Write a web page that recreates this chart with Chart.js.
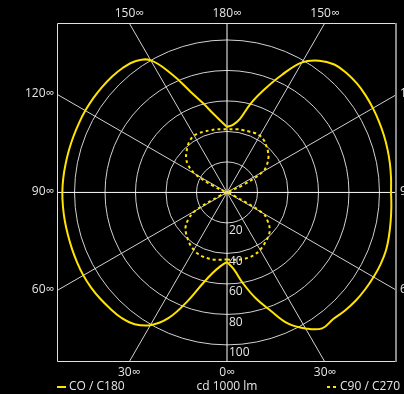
<!DOCTYPE html>
<html>
<head>
<meta charset="utf-8">
<script src="https://cdn.jsdelivr.net/npm/chart.js@4/dist/chart.umd.min.js"></script>
<style>
  html, body { margin: 0; padding: 0; background: #000; }
  #wrap { width: 404px; height: 394px; position: relative; }
</style>
</head>
<body>
<div id="wrap"><canvas id="polarChart"></canvas></div>
<script>
// Winkel (Grad, 0 = unten / Nadir, 180 = oben)
const gammas = [0, 5, 10, 15, 20, 25, 30, 35, 40, 45, 50, 55, 60, 65, 70, 75, 80, 85, 90,
  95, 100, 105, 110, 115, 120, 125, 130, 135, 140, 145, 150, 155, 160, 165, 170, 175, 180];

// C0 / C180 (cd/1000 lm) – rechte und linke Hälfte
const c0Right = [45.5, 50.5, 60.5, 71.5, 82, 95, 103, 108.8, 108.4, 109.5, 110.3, 110.7, 111, 111.2, 111, 110, 109, 108.2, 107.6,
  108, 108.5, 109, 109.5, 110, 110.5, 111, 111.2, 110.8, 109.5, 105.5, 98.5, 85, 72, 60.5, 49, 44.5, 43];
const c180Left = [45.5, 48.5, 53.5, 62, 76, 91, 100.5, 105.5, 107.5, 108, 108.5, 108.8, 108.8, 108.5, 108.2, 108, 108, 108, 108,
  107.8, 107.5, 107.3, 107.2, 107.2, 107.3, 107.3, 107.2, 107, 106.5, 105, 100, 85.5, 70.5, 60.5, 52.5, 47, 43];

// C90 / C270
const c90Right = [44, 44.3, 44.8, 45, 45, 44.5, 43.5, 42, 40.5, 39, 36.5, 32.5, 27, 5, 0, 0, 0, 0, 0,
  0, 0, 0, 0, 12, 27, 32, 35.5, 38, 40, 42, 43, 43, 42.5, 42.2, 42, 41.6, 41.4];
const c270Left = [44, 44.3, 44.8, 45, 45, 44.6, 43.5, 42, 40, 38, 35.5, 31, 24, 5, 0, 0, 0, 0, 0,
  0, 0, 0, 0, 10, 24, 31, 35, 37.5, 40, 42, 43, 43, 42.5, 42.2, 42, 41.6, 41.4];

// Beschriftungen
const ringTicks = [20, 40, 60, 80, 100];
const spokeAngles = [0, 30, 60, 90, 120, 150];
const topLabels = ["150∞", "180∞", "150∞"];
const bottomLabels = ["30∞", "0∞", "30∞"];
const sideLabels = ["120∞", "90∞", "60∞"];
const legendLeft = "CO / C180";
const legendMid = "cd 1000 lm";
const legendRight = "C90 / C270";

const yellow = "#ffe400";
const textColor = "#e6e6e6";
const fontFamily = "'Open Sans', 'Noto Sans', sans-serif";

// Polar -> kartesisch (rechts: +sin, links: -sin)
function toPoints(rightVals, leftVals) {
  const pts = [];
  gammas.forEach((g, i) => {
    const a = g * Math.PI / 180;
    pts.push({ x: rightVals[i] * Math.sin(a), y: -rightVals[i] * Math.cos(a) });
  });
  for (let i = gammas.length - 1; i >= 0; i--) {
    const a = gammas[i] * Math.PI / 180;
    pts.push({ x: -leftVals[i] * Math.sin(a), y: -leftVals[i] * Math.cos(a) });
  }
  return pts;
}

// Raster, Rahmen und Texte
const polarGrid = {
  id: "polarGrid",
  beforeDatasetsDraw(chart) {
    const { ctx, chartArea: ca, scales: { x, y } } = chart;
    const cx = x.getPixelForValue(0);
    const cy = y.getPixelForValue(0);
    const unit = x.getPixelForValue(1) - cx;

    ctx.save();
    ctx.beginPath();
    ctx.rect(ca.left, ca.top, ca.right - ca.left, ca.bottom - ca.top);
    ctx.clip();

    // Kreise
    ctx.strokeStyle = "#d2d2d2";
    ctx.lineWidth = 1;
    ringTicks.forEach(r => {
      ctx.beginPath();
      ctx.arc(cx, cy, r * unit, 0, Math.PI * 2);
      ctx.stroke();
    });

    // Speichen
    spokeAngles.forEach(g => {
      const a = g * Math.PI / 180;
      const L = 400;
      ctx.strokeStyle = (g % 90 === 0) ? "#ffffff" : "#d2d2d2";
      ctx.beginPath();
      ctx.moveTo(cx + L * Math.sin(a), cy + L * Math.cos(a));
      ctx.lineTo(cx - L * Math.sin(a), cy - L * Math.cos(a));
      ctx.stroke();
    });
    ctx.restore();

    // Rahmen
    ctx.save();
    ctx.strokeStyle = "#e0e0e0";
    ctx.lineWidth = 1;
    ctx.beginPath();
    ctx.moveTo(ca.right, ca.top + 0.5);
    ctx.lineTo(ca.left + 0.5, ca.top + 0.5);
    ctx.lineTo(ca.left + 0.5, ca.bottom - 0.5);
    ctx.lineTo(ca.right, ca.bottom - 0.5);
    ctx.stroke();
    ctx.strokeStyle = "#8a8a8a";
    ctx.lineWidth = 2;
    ctx.beginPath();
    ctx.moveTo(ca.right - 1, ca.top);
    ctx.lineTo(ca.right - 1, ca.bottom);
    ctx.stroke();
    ctx.restore();
  },
  afterDatasetsDraw(chart) {
    const { ctx, chartArea: ca, scales: { x, y } } = chart;
    const cx = x.getPixelForValue(0);
    const cy = y.getPixelForValue(0);
    const unit = x.getPixelForValue(1) - cx;
    const t30 = Math.tan(Math.PI / 6);

    ctx.save();
    ctx.fillStyle = textColor;
    ctx.font = "12px " + fontFamily;

    // Ring-Beschriftung
    ctx.textAlign = "left";
    ctx.textBaseline = "top";
    ringTicks.forEach(r => {
      ctx.fillText(String(r), cx + 2, cy + r * unit + 2);
    });

    // Winkel oben / unten
    const halfH = cy - ca.top;
    const xs = [cx - halfH * t30, cx, cx + halfH * t30];
    ctx.textAlign = "center";
    ctx.textBaseline = "middle";
    topLabels.forEach((t, i) => ctx.fillText(t, xs[i], ca.top - 9));
    const halfB = ca.bottom - cy;
    const xb = [cx - halfB * t30, cx, cx + halfB * t30];
    bottomLabels.forEach((t, i) => ctx.fillText(t, xb[i], ca.bottom + 11));

    // Winkel links / rechts
    const halfW = cx - ca.left;
    const ys = [cy - halfW * t30, cy, cy + halfW * t30];
    ctx.textAlign = "right";
    sideLabels.forEach((t, i) => ctx.fillText(t, ca.left - 3, ys[i] - 1));
    ctx.textAlign = "left";
    sideLabels.forEach((t, i) => ctx.fillText(t, ca.right + 3, ys[i] - 1));

    // Legende
    const ly = 387;
    ctx.strokeStyle = yellow;
    ctx.lineWidth = 2;
    ctx.beginPath();
    ctx.moveTo(57, ly);
    ctx.lineTo(66, ly);
    ctx.stroke();
    ctx.setLineDash([3, 3]);
    ctx.beginPath();
    ctx.moveTo(327, ly);
    ctx.lineTo(338, ly);
    ctx.stroke();
    ctx.setLineDash([]);
    ctx.textAlign = "left";
    ctx.fillText(legendLeft, 69, ly);
    ctx.textAlign = "center";
    ctx.fillText(legendMid, cx, ly);
    ctx.textAlign = "left";
    ctx.fillText(legendRight, 340, ly);
    ctx.restore();
  }
};

document.addEventListener("DOMContentLoaded", () => {
  const ctx = document.getElementById("polarChart").getContext("2d");

  new Chart(ctx, {
    type: "scatter",
    data: {
      datasets: [
        {
          label: legendLeft,
          data: toPoints(c0Right, c180Left),
          showLine: true,
          borderColor: yellow,
          borderWidth: 2,
          pointRadius: 0,
          tension: 0.4,
        },
        {
          label: legendRight,
          data: toPoints(c90Right, c270Left),
          showLine: true,
          borderColor: yellow,
          borderWidth: 2,
          borderDash: [3, 3],
          pointRadius: 0,
          tension: 0.4,
        },
      ],
    },
    options: {
      responsive: true,
      maintainAspectRatio: false,
      animation: false,
      layout: { padding: { top: 23, right: 7, bottom: 32, left: 57 } },
      plugins: { legend: { display: false }, tooltip: { enabled: false } },
      scales: {
        x: { type: "linear", min: -111.5, max: 111.5, display: false },
        y: { type: "linear", min: -111.2, max: 111.1, display: false },
      },
    },
    plugins: [polarGrid],
  });
});
</script>
</body>
</html>
